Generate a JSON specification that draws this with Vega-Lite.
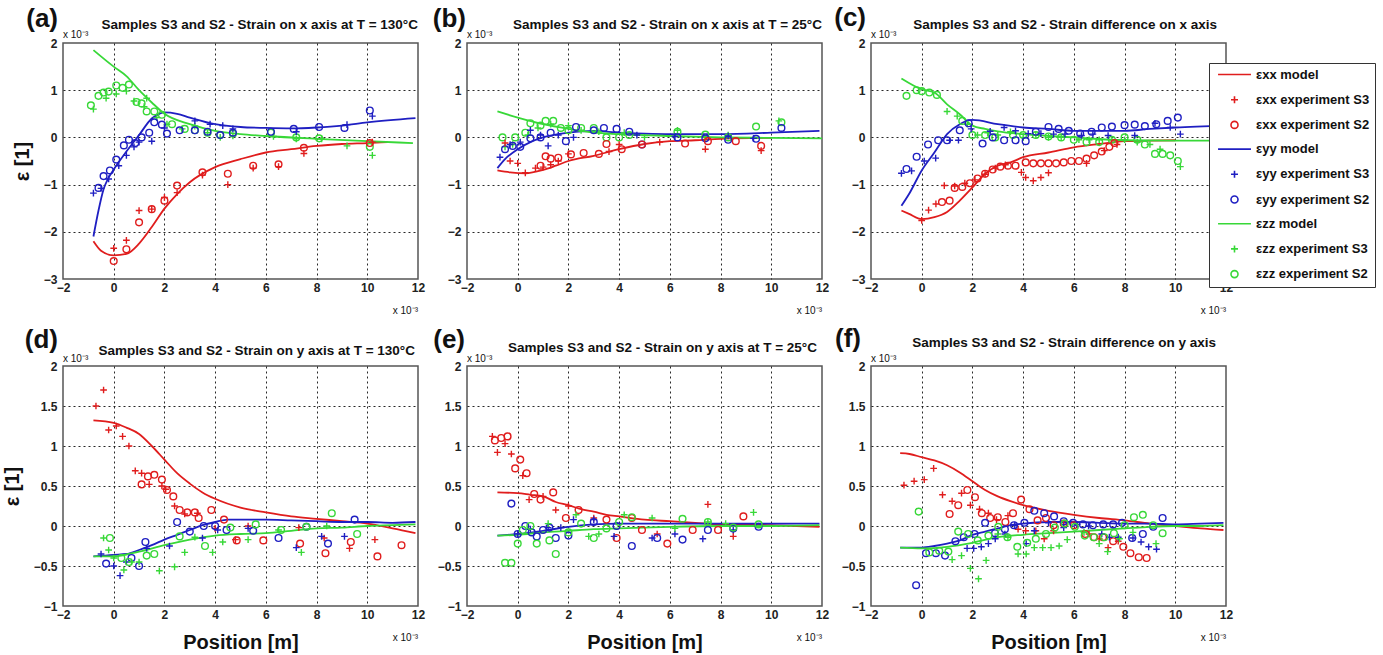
{
"$schema": "https://vega.github.io/schema/vega-lite/v6.json",
"background": "white",
"padding": {"left": 1, "top": 4, "right": 0, "bottom": 0},
"bounds": "flush",
"align": "each",
"columns": 3,
"spacing": {"row": 87, "column": 49},
"resolve": {"scale": {"x": "independent", "y": "independent", "color": "shared", "shape": "shared"}},
"data": {"name": "d"},
"datasets": {"d": [
{"p":"a","s":"εxx model","x":-0.8,"y":-2.2},{"p":"a","s":"εxx model","x":-0.5,"y":-2.4},{"p":"a","s":"εxx model","x":0,"y":-2.5},{"p":"a","s":"εxx model","x":0.5,"y":-2.47},{"p":"a","s":"εxx model","x":1,"y":-2.25},{"p":"a","s":"εxx model","x":1.5,"y":-1.9},{"p":"a","s":"εxx model","x":2,"y":-1.51},{"p":"a","s":"εxx model","x":2.5,"y":-1.2},{"p":"a","s":"εxx model","x":3,"y":-0.95},{"p":"a","s":"εxx model","x":4,"y":-0.63},{"p":"a","s":"εxx model","x":5,"y":-0.46},{"p":"a","s":"εxx model","x":6,"y":-0.32},{"p":"a","s":"εxx model","x":7,"y":-0.25},{"p":"a","s":"εxx model","x":8,"y":-0.18},{"p":"a","s":"εxx model","x":9,"y":-0.14},{"p":"a","s":"εxx model","x":10,"y":-0.12},{"p":"a","s":"εxx model","x":10.8,"y":-0.1},
{"p":"a","s":"εyy model","x":-0.8,"y":-2.1},{"p":"a","s":"εyy model","x":-0.6,"y":-1.55},{"p":"a","s":"εyy model","x":-0.4,"y":-1.1},{"p":"a","s":"εyy model","x":-0.2,"y":-0.85},{"p":"a","s":"εyy model","x":0,"y":-0.68},{"p":"a","s":"εyy model","x":0.5,"y":-0.3},{"p":"a","s":"εyy model","x":1,"y":0.05},{"p":"a","s":"εyy model","x":1.5,"y":0.4},{"p":"a","s":"εyy model","x":1.8,"y":0.5},{"p":"a","s":"εyy model","x":2,"y":0.53},{"p":"a","s":"εyy model","x":2.5,"y":0.5},{"p":"a","s":"εyy model","x":3,"y":0.42},{"p":"a","s":"εyy model","x":4,"y":0.28},{"p":"a","s":"εyy model","x":5,"y":0.22},{"p":"a","s":"εyy model","x":6,"y":0.2},{"p":"a","s":"εyy model","x":7,"y":0.19},{"p":"a","s":"εyy model","x":8,"y":0.21},{"p":"a","s":"εyy model","x":9,"y":0.25},{"p":"a","s":"εyy model","x":10,"y":0.32},{"p":"a","s":"εyy model","x":11.9,"y":0.41},
{"p":"a","s":"εzz model","x":-0.8,"y":1.85},{"p":"a","s":"εzz model","x":0,"y":1.5},{"p":"a","s":"εzz model","x":0.5,"y":1.3},{"p":"a","s":"εzz model","x":1,"y":1.0},{"p":"a","s":"εzz model","x":1.5,"y":0.74},{"p":"a","s":"εzz model","x":2,"y":0.5},{"p":"a","s":"εzz model","x":3,"y":0.28},{"p":"a","s":"εzz model","x":4,"y":0.14},{"p":"a","s":"εzz model","x":5,"y":0.07},{"p":"a","s":"εzz model","x":6,"y":0.03},{"p":"a","s":"εzz model","x":8,"y":-0.03},{"p":"a","s":"εzz model","x":10,"y":-0.08},{"p":"a","s":"εzz model","x":11.8,"y":-0.12},
{"p":"a","s":"εzz experiment S2","x":-0.9,"y":0.68},{"p":"a","s":"εzz experiment S2","x":-0.6,"y":0.88},{"p":"a","s":"εzz experiment S2","x":-0.4,"y":0.95},{"p":"a","s":"εzz experiment S2","x":-0.2,"y":0.97},{"p":"a","s":"εzz experiment S2","x":0.1,"y":1.1},{"p":"a","s":"εzz experiment S2","x":0.35,"y":1.05},{"p":"a","s":"εzz experiment S2","x":0.6,"y":1.12},{"p":"a","s":"εzz experiment S2","x":0.9,"y":0.75},{"p":"a","s":"εzz experiment S2","x":1.1,"y":0.72},{"p":"a","s":"εzz experiment S2","x":1.3,"y":0.55},{"p":"a","s":"εzz experiment S2","x":1.6,"y":0.55},{"p":"a","s":"εzz experiment S2","x":1.9,"y":0.48},{"p":"a","s":"εzz experiment S2","x":2.3,"y":0.28},{"p":"a","s":"εzz experiment S2","x":2.8,"y":0.18},{"p":"a","s":"εzz experiment S2","x":3.2,"y":0.15},{"p":"a","s":"εzz experiment S2","x":3.7,"y":0.1},{"p":"a","s":"εzz experiment S2","x":4.2,"y":0.05},{"p":"a","s":"εzz experiment S2","x":4.7,"y":0.08},{"p":"a","s":"εzz experiment S2","x":6.2,"y":0.1},{"p":"a","s":"εzz experiment S2","x":7.2,"y":0.0},{"p":"a","s":"εzz experiment S2","x":8.1,"y":-0.02},{"p":"a","s":"εzz experiment S2","x":10.1,"y":-0.2},
{"p":"a","s":"εzz experiment S3","x":-0.8,"y":0.6},{"p":"a","s":"εzz experiment S3","x":-0.3,"y":0.83},{"p":"a","s":"εzz experiment S3","x":0.1,"y":0.92},{"p":"a","s":"εzz experiment S3","x":0.5,"y":0.98},{"p":"a","s":"εzz experiment S3","x":0.8,"y":0.77},{"p":"a","s":"εzz experiment S3","x":1.2,"y":0.65},{"p":"a","s":"εzz experiment S3","x":1.3,"y":0.83},{"p":"a","s":"εzz experiment S3","x":1.7,"y":0.42},{"p":"a","s":"εzz experiment S3","x":2.1,"y":0.28},{"p":"a","s":"εzz experiment S3","x":2.7,"y":0.18},{"p":"a","s":"εzz experiment S3","x":3.2,"y":0.24},{"p":"a","s":"εzz experiment S3","x":3.7,"y":0.1},{"p":"a","s":"εzz experiment S3","x":4.2,"y":0.0},{"p":"a","s":"εzz experiment S3","x":4.7,"y":0.03},{"p":"a","s":"εzz experiment S3","x":6.3,"y":0.02},{"p":"a","s":"εzz experiment S3","x":7.2,"y":-0.03},{"p":"a","s":"εzz experiment S3","x":8.2,"y":-0.03},{"p":"a","s":"εzz experiment S3","x":9.2,"y":-0.18},{"p":"a","s":"εzz experiment S3","x":10.2,"y":-0.38},
{"p":"a","s":"εyy experiment S2","x":-0.6,"y":-1.07},{"p":"a","s":"εyy experiment S2","x":-0.4,"y":-0.82},{"p":"a","s":"εyy experiment S2","x":-0.15,"y":-0.7},{"p":"a","s":"εyy experiment S2","x":0.1,"y":-0.47},{"p":"a","s":"εyy experiment S2","x":0.4,"y":-0.17},{"p":"a","s":"εyy experiment S2","x":0.6,"y":-0.05},{"p":"a","s":"εyy experiment S2","x":0.85,"y":-0.12},{"p":"a","s":"εyy experiment S2","x":1.1,"y":0.0},{"p":"a","s":"εyy experiment S2","x":1.4,"y":0.1},{"p":"a","s":"εyy experiment S2","x":1.6,"y":0.32},{"p":"a","s":"εyy experiment S2","x":1.9,"y":0.27},{"p":"a","s":"εyy experiment S2","x":2.1,"y":0.08},{"p":"a","s":"εyy experiment S2","x":2.6,"y":0.15},{"p":"a","s":"εyy experiment S2","x":3.2,"y":0.15},{"p":"a","s":"εyy experiment S2","x":3.7,"y":0.12},{"p":"a","s":"εyy experiment S2","x":4.2,"y":0.05},{"p":"a","s":"εyy experiment S2","x":4.7,"y":0.1},{"p":"a","s":"εyy experiment S2","x":6.2,"y":0.12},{"p":"a","s":"εyy experiment S2","x":7.1,"y":0.18},{"p":"a","s":"εyy experiment S2","x":8.1,"y":0.22},{"p":"a","s":"εyy experiment S2","x":9.1,"y":0.2},{"p":"a","s":"εyy experiment S2","x":10.1,"y":0.57},
{"p":"a","s":"εyy experiment S3","x":-0.8,"y":-1.18},{"p":"a","s":"εyy experiment S3","x":-0.5,"y":-1.08},{"p":"a","s":"εyy experiment S3","x":-0.2,"y":-0.88},{"p":"a","s":"εyy experiment S3","x":0.2,"y":-0.6},{"p":"a","s":"εyy experiment S3","x":0.5,"y":-0.38},{"p":"a","s":"εyy experiment S3","x":0.8,"y":-0.2},{"p":"a","s":"εyy experiment S3","x":1.0,"y":-0.1},{"p":"a","s":"εyy experiment S3","x":1.5,"y":-0.08},{"p":"a","s":"εyy experiment S3","x":2.0,"y":0.2},{"p":"a","s":"εyy experiment S3","x":3.2,"y":0.35},{"p":"a","s":"εyy experiment S3","x":3.8,"y":0.28},{"p":"a","s":"εyy experiment S3","x":4.3,"y":0.25},{"p":"a","s":"εyy experiment S3","x":4.7,"y":0.18},{"p":"a","s":"εyy experiment S3","x":7.2,"y":0.12},{"p":"a","s":"εyy experiment S3","x":9.2,"y":0.27},{"p":"a","s":"εyy experiment S3","x":10.2,"y":0.45},
{"p":"a","s":"εxx experiment S2","x":0,"y":-2.62},{"p":"a","s":"εxx experiment S2","x":0.5,"y":-2.37},{"p":"a","s":"εxx experiment S2","x":1,"y":-1.8},{"p":"a","s":"εxx experiment S2","x":1.5,"y":-1.52},{"p":"a","s":"εxx experiment S2","x":2,"y":-1.34},{"p":"a","s":"εxx experiment S2","x":2.5,"y":-1.02},{"p":"a","s":"εxx experiment S2","x":3.5,"y":-0.74},{"p":"a","s":"εxx experiment S2","x":4.5,"y":-0.77},{"p":"a","s":"εxx experiment S2","x":5.5,"y":-0.6},{"p":"a","s":"εxx experiment S2","x":6.5,"y":-0.57},{"p":"a","s":"εxx experiment S2","x":7.5,"y":-0.22},{"p":"a","s":"εxx experiment S2","x":10.1,"y":-0.12},
{"p":"a","s":"εxx experiment S3","x":0,"y":-2.35},{"p":"a","s":"εxx experiment S3","x":0.5,"y":-2.18},{"p":"a","s":"εxx experiment S3","x":1,"y":-1.55},{"p":"a","s":"εxx experiment S3","x":1.5,"y":-1.52},{"p":"a","s":"εxx experiment S3","x":2,"y":-1.27},{"p":"a","s":"εxx experiment S3","x":2.5,"y":-1.17},{"p":"a","s":"εxx experiment S3","x":3.5,"y":-0.8},{"p":"a","s":"εxx experiment S3","x":4.5,"y":-1.0},{"p":"a","s":"εxx experiment S3","x":5.5,"y":-0.65},{"p":"a","s":"εxx experiment S3","x":6.5,"y":-0.62},{"p":"a","s":"εxx experiment S3","x":7.5,"y":-0.34},{"p":"a","s":"εxx experiment S3","x":10.2,"y":-0.1},
{"p":"b","s":"εxx model","x":-0.8,"y":-0.7},{"p":"b","s":"εxx model","x":-0.3,"y":-0.74},{"p":"b","s":"εxx model","x":0.3,"y":-0.76},{"p":"b","s":"εxx model","x":1,"y":-0.69},{"p":"b","s":"εxx model","x":1.5,"y":-0.6},{"p":"b","s":"εxx model","x":2,"y":-0.5},{"p":"b","s":"εxx model","x":3,"y":-0.39},{"p":"b","s":"εxx model","x":4,"y":-0.25},{"p":"b","s":"εxx model","x":5,"y":-0.14},{"p":"b","s":"εxx model","x":6,"y":-0.08},{"p":"b","s":"εxx model","x":7,"y":-0.06},{"p":"b","s":"εxx model","x":8,"y":-0.03},{"p":"b","s":"εxx model","x":10,"y":-0.01},
{"p":"b","s":"εyy model","x":-0.8,"y":-0.65},{"p":"b","s":"εyy model","x":-0.5,"y":-0.46},{"p":"b","s":"εyy model","x":0,"y":-0.25},{"p":"b","s":"εyy model","x":0.5,"y":-0.1},{"p":"b","s":"εyy model","x":1,"y":0},{"p":"b","s":"εyy model","x":2,"y":0.1},{"p":"b","s":"εyy model","x":3,"y":0.14},{"p":"b","s":"εyy model","x":4,"y":0.1},{"p":"b","s":"εyy model","x":5,"y":0.08},{"p":"b","s":"εyy model","x":6,"y":0.07},{"p":"b","s":"εyy model","x":8,"y":0.07},{"p":"b","s":"εyy model","x":10,"y":0.1},{"p":"b","s":"εyy model","x":11.9,"y":0.14},
{"p":"b","s":"εzz model","x":-0.8,"y":0.55},{"p":"b","s":"εzz model","x":0,"y":0.42},{"p":"b","s":"εzz model","x":1,"y":0.28},{"p":"b","s":"εzz model","x":2,"y":0.18},{"p":"b","s":"εzz model","x":3,"y":0.1},{"p":"b","s":"εzz model","x":4,"y":0.07},{"p":"b","s":"εzz model","x":6,"y":0.03},{"p":"b","s":"εzz model","x":8,"y":0},{"p":"b","s":"εzz model","x":10,"y":-0.01},{"p":"b","s":"εzz model","x":12,"y":-0.02},
{"p":"b","s":"εzz experiment S2","x":-0.6,"y":0.0},{"p":"b","s":"εzz experiment S2","x":-0.1,"y":0.0},{"p":"b","s":"εzz experiment S2","x":0.3,"y":0.1},{"p":"b","s":"εzz experiment S2","x":0.5,"y":0.3},{"p":"b","s":"εzz experiment S2","x":0.9,"y":0.25},{"p":"b","s":"εzz experiment S2","x":1.1,"y":0.35},{"p":"b","s":"εzz experiment S2","x":1.4,"y":0.35},{"p":"b","s":"εzz experiment S2","x":1.7,"y":0.2},{"p":"b","s":"εzz experiment S2","x":2.0,"y":0.15},{"p":"b","s":"εzz experiment S2","x":2.5,"y":0.2},{"p":"b","s":"εzz experiment S2","x":3.0,"y":0.2},{"p":"b","s":"εzz experiment S2","x":3.5,"y":0.0},{"p":"b","s":"εzz experiment S2","x":4.0,"y":0.0},{"p":"b","s":"εzz experiment S2","x":4.4,"y":0.05},{"p":"b","s":"εzz experiment S2","x":6.3,"y":0.12},{"p":"b","s":"εzz experiment S2","x":7.4,"y":0.06},{"p":"b","s":"εzz experiment S2","x":8.3,"y":0.0},{"p":"b","s":"εzz experiment S2","x":9.4,"y":0.23},{"p":"b","s":"εzz experiment S2","x":10.4,"y":0.32},
{"p":"b","s":"εzz experiment S3","x":-0.5,"y":-0.2},{"p":"b","s":"εzz experiment S3","x":-0.2,"y":-0.15},{"p":"b","s":"εzz experiment S3","x":0.4,"y":0.05},{"p":"b","s":"εzz experiment S3","x":0.8,"y":0.2},{"p":"b","s":"εzz experiment S3","x":1.3,"y":0.28},{"p":"b","s":"εzz experiment S3","x":2.0,"y":0.25},{"p":"b","s":"εzz experiment S3","x":2.5,"y":0.15},{"p":"b","s":"εzz experiment S3","x":3.2,"y":0.12},{"p":"b","s":"εzz experiment S3","x":4.2,"y":0.1},{"p":"b","s":"εzz experiment S3","x":5.0,"y":0.0},{"p":"b","s":"εzz experiment S3","x":6.3,"y":0.15},{"p":"b","s":"εzz experiment S3","x":7.4,"y":0.0},{"p":"b","s":"εzz experiment S3","x":8.3,"y":0.05},{"p":"b","s":"εzz experiment S3","x":10.3,"y":0.35},
{"p":"b","s":"εyy experiment S2","x":-0.5,"y":-0.25},{"p":"b","s":"εyy experiment S2","x":-0.2,"y":-0.18},{"p":"b","s":"εyy experiment S2","x":0.1,"y":-0.2},{"p":"b","s":"εyy experiment S2","x":0.5,"y":-0.02},{"p":"b","s":"εyy experiment S2","x":0.9,"y":0.0},{"p":"b","s":"εyy experiment S2","x":1.3,"y":0.1},{"p":"b","s":"εyy experiment S2","x":1.9,"y":-0.08},{"p":"b","s":"εyy experiment S2","x":2.3,"y":0.22},{"p":"b","s":"εyy experiment S2","x":3.0,"y":0.15},{"p":"b","s":"εyy experiment S2","x":3.4,"y":0.2},{"p":"b","s":"εyy experiment S2","x":3.9,"y":0.18},{"p":"b","s":"εyy experiment S2","x":4.4,"y":0.12},{"p":"b","s":"εyy experiment S2","x":4.9,"y":-0.15},{"p":"b","s":"εyy experiment S2","x":6.3,"y":0.0},{"p":"b","s":"εyy experiment S2","x":7.4,"y":-0.02},{"p":"b","s":"εyy experiment S2","x":8.3,"y":-0.05},{"p":"b","s":"εyy experiment S2","x":9.4,"y":-0.03},{"p":"b","s":"εyy experiment S2","x":10.4,"y":0.2},
{"p":"b","s":"εyy experiment S3","x":-0.7,"y":-0.42},{"p":"b","s":"εyy experiment S3","x":-0.3,"y":-0.15},{"p":"b","s":"εyy experiment S3","x":0.1,"y":-0.1},{"p":"b","s":"εyy experiment S3","x":0.5,"y":0.15},{"p":"b","s":"εyy experiment S3","x":0.9,"y":0.05},{"p":"b","s":"εyy experiment S3","x":1.2,"y":-0.18},{"p":"b","s":"εyy experiment S3","x":1.6,"y":0.05},{"p":"b","s":"εyy experiment S3","x":2.2,"y":0.0},{"p":"b","s":"εyy experiment S3","x":4.7,"y":0.05},{"p":"b","s":"εyy experiment S3","x":6.2,"y":0.02},{"p":"b","s":"εyy experiment S3","x":8.3,"y":0.03},{"p":"b","s":"εyy experiment S3","x":9.3,"y":-0.02},
{"p":"b","s":"εxx experiment S2","x":0.9,"y":-0.6},{"p":"b","s":"εxx experiment S2","x":1.1,"y":-0.4},{"p":"b","s":"εxx experiment S2","x":1.3,"y":-0.45},{"p":"b","s":"εxx experiment S2","x":1.6,"y":-0.43},{"p":"b","s":"εxx experiment S2","x":2.1,"y":-0.36},{"p":"b","s":"εxx experiment S2","x":2.6,"y":-0.33},{"p":"b","s":"εxx experiment S2","x":3.2,"y":-0.35},{"p":"b","s":"εxx experiment S2","x":3.5,"y":-0.14},{"p":"b","s":"εxx experiment S2","x":4.1,"y":-0.25},{"p":"b","s":"εxx experiment S2","x":4.9,"y":-0.15},{"p":"b","s":"εxx experiment S2","x":6.6,"y":-0.13},{"p":"b","s":"εxx experiment S2","x":7.5,"y":-0.08},{"p":"b","s":"εxx experiment S2","x":8.6,"y":-0.08},{"p":"b","s":"εxx experiment S2","x":9.6,"y":-0.18},
{"p":"b","s":"εxx experiment S3","x":-0.5,"y":-0.12},{"p":"b","s":"εxx experiment S3","x":-0.3,"y":-0.5},{"p":"b","s":"εxx experiment S3","x":0.0,"y":-0.55},{"p":"b","s":"εxx experiment S3","x":0.3,"y":-0.75},{"p":"b","s":"εxx experiment S3","x":0.7,"y":-0.65},{"p":"b","s":"εxx experiment S3","x":1.0,"y":-0.63},{"p":"b","s":"εxx experiment S3","x":1.3,"y":-0.58},{"p":"b","s":"εxx experiment S3","x":1.6,"y":-0.5},{"p":"b","s":"εxx experiment S3","x":2.0,"y":-0.35},{"p":"b","s":"εxx experiment S3","x":3.6,"y":-0.3},{"p":"b","s":"εxx experiment S3","x":4.0,"y":-0.15},{"p":"b","s":"εxx experiment S3","x":5.6,"y":-0.1},{"p":"b","s":"εxx experiment S3","x":7.4,"y":-0.25},{"p":"b","s":"εxx experiment S3","x":9.6,"y":-0.28},
{"p":"c","s":"εxx model","x":-0.8,"y":-1.55},{"p":"c","s":"εxx model","x":-0.5,"y":-1.62},{"p":"c","s":"εxx model","x":0,"y":-1.73},{"p":"c","s":"εxx model","x":0.5,"y":-1.69},{"p":"c","s":"εxx model","x":1,"y":-1.58},{"p":"c","s":"εxx model","x":1.5,"y":-1.34},{"p":"c","s":"εxx model","x":2,"y":-1.06},{"p":"c","s":"εxx model","x":2.5,"y":-0.77},{"p":"c","s":"εxx model","x":3,"y":-0.6},{"p":"c","s":"εxx model","x":3.5,"y":-0.53},{"p":"c","s":"εxx model","x":4,"y":-0.42},{"p":"c","s":"εxx model","x":5,"y":-0.32},{"p":"c","s":"εxx model","x":6,"y":-0.21},{"p":"c","s":"εxx model","x":7,"y":-0.14},{"p":"c","s":"εxx model","x":8,"y":-0.08},{"p":"c","s":"εxx model","x":9,"y":-0.07},{"p":"c","s":"εxx model","x":10,"y":-0.06},
{"p":"c","s":"εyy model","x":-0.8,"y":-1.45},{"p":"c","s":"εyy model","x":-0.5,"y":-1.2},{"p":"c","s":"εyy model","x":0,"y":-0.7},{"p":"c","s":"εyy model","x":0.5,"y":-0.32},{"p":"c","s":"εyy model","x":1,"y":0.07},{"p":"c","s":"εyy model","x":1.5,"y":0.28},{"p":"c","s":"εyy model","x":2,"y":0.37},{"p":"c","s":"εyy model","x":3,"y":0.28},{"p":"c","s":"εyy model","x":4,"y":0.21},{"p":"c","s":"εyy model","x":5,"y":0.18},{"p":"c","s":"εyy model","x":6,"y":0.14},{"p":"c","s":"εyy model","x":8,"y":0.14},{"p":"c","s":"εyy model","x":9,"y":0.18},{"p":"c","s":"εyy model","x":10,"y":0.21},{"p":"c","s":"εyy model","x":12,"y":0.25},
{"p":"c","s":"εzz model","x":-0.8,"y":1.25},{"p":"c","s":"εzz model","x":0,"y":1.02},{"p":"c","s":"εzz model","x":0.5,"y":0.95},{"p":"c","s":"εzz model","x":1,"y":0.7},{"p":"c","s":"εzz model","x":1.5,"y":0.49},{"p":"c","s":"εzz model","x":2,"y":0.25},{"p":"c","s":"εzz model","x":2.5,"y":0.18},{"p":"c","s":"εzz model","x":3,"y":0.13},{"p":"c","s":"εzz model","x":4,"y":0.07},{"p":"c","s":"εzz model","x":5,"y":0.03},{"p":"c","s":"εzz model","x":6,"y":0},{"p":"c","s":"εzz model","x":8,"y":-0.06},{"p":"c","s":"εzz model","x":10,"y":-0.07},{"p":"c","s":"εzz model","x":12,"y":-0.07},
{"p":"c","s":"εzz experiment S2","x":-0.6,"y":0.88},{"p":"c","s":"εzz experiment S2","x":-0.2,"y":1.0},{"p":"c","s":"εzz experiment S2","x":0.0,"y":0.98},{"p":"c","s":"εzz experiment S2","x":0.3,"y":0.95},{"p":"c","s":"εzz experiment S2","x":0.6,"y":0.9},{"p":"c","s":"εzz experiment S2","x":1.6,"y":0.35},{"p":"c","s":"εzz experiment S2","x":2.0,"y":0.05},{"p":"c","s":"εzz experiment S2","x":2.5,"y":0.05},{"p":"c","s":"εzz experiment S2","x":2.9,"y":0.0},{"p":"c","s":"εzz experiment S2","x":3.6,"y":0.05},{"p":"c","s":"εzz experiment S2","x":4.0,"y":0.05},{"p":"c","s":"εzz experiment S2","x":4.5,"y":0.05},{"p":"c","s":"εzz experiment S2","x":5.0,"y":0.02},{"p":"c","s":"εzz experiment S2","x":5.5,"y":0.0},{"p":"c","s":"εzz experiment S2","x":6.0,"y":-0.05},{"p":"c","s":"εzz experiment S2","x":6.5,"y":-0.1},{"p":"c","s":"εzz experiment S2","x":7.0,"y":-0.1},{"p":"c","s":"εzz experiment S2","x":7.5,"y":-0.05},{"p":"c","s":"εzz experiment S2","x":8.0,"y":0.0},{"p":"c","s":"εzz experiment S2","x":8.5,"y":-0.05},{"p":"c","s":"εzz experiment S2","x":8.8,"y":-0.15},{"p":"c","s":"εzz experiment S2","x":9.2,"y":-0.35},{"p":"c","s":"εzz experiment S2","x":9.5,"y":-0.35},{"p":"c","s":"εzz experiment S2","x":9.8,"y":-0.38},{"p":"c","s":"εzz experiment S2","x":10.1,"y":-0.5},
{"p":"c","s":"εzz experiment S3","x":1.0,"y":0.55},{"p":"c","s":"εzz experiment S3","x":1.4,"y":0.45},{"p":"c","s":"εzz experiment S3","x":1.8,"y":0.28},{"p":"c","s":"εzz experiment S3","x":2.2,"y":0.05},{"p":"c","s":"εzz experiment S3","x":2.6,"y":0.1},{"p":"c","s":"εzz experiment S3","x":3.0,"y":0.05},{"p":"c","s":"εzz experiment S3","x":3.5,"y":0.12},{"p":"c","s":"εzz experiment S3","x":4.0,"y":0.0},{"p":"c","s":"εzz experiment S3","x":4.5,"y":0.05},{"p":"c","s":"εzz experiment S3","x":5.0,"y":0.0},{"p":"c","s":"εzz experiment S3","x":5.5,"y":0.0},{"p":"c","s":"εzz experiment S3","x":6.2,"y":-0.05},{"p":"c","s":"εzz experiment S3","x":6.6,"y":-0.05},{"p":"c","s":"εzz experiment S3","x":7.0,"y":-0.05},{"p":"c","s":"εzz experiment S3","x":7.5,"y":-0.05},{"p":"c","s":"εzz experiment S3","x":8.0,"y":-0.05},{"p":"c","s":"εzz experiment S3","x":8.5,"y":-0.1},{"p":"c","s":"εzz experiment S3","x":9.0,"y":-0.15},{"p":"c","s":"εzz experiment S3","x":9.4,"y":-0.25},{"p":"c","s":"εzz experiment S3","x":10.2,"y":-0.62},
{"p":"c","s":"εyy experiment S2","x":-0.6,"y":-0.67},{"p":"c","s":"εyy experiment S2","x":-0.2,"y":-0.41},{"p":"c","s":"εyy experiment S2","x":0.25,"y":-0.15},{"p":"c","s":"εyy experiment S2","x":0.65,"y":-0.06},{"p":"c","s":"εyy experiment S2","x":1.0,"y":-0.06},{"p":"c","s":"εyy experiment S2","x":1.5,"y":0.15},{"p":"c","s":"εyy experiment S2","x":1.85,"y":0.3},{"p":"c","s":"εyy experiment S2","x":2.4,"y":-0.13},{"p":"c","s":"εyy experiment S2","x":2.8,"y":0.0},{"p":"c","s":"εyy experiment S2","x":3.25,"y":-0.06},{"p":"c","s":"εyy experiment S2","x":3.7,"y":-0.06},{"p":"c","s":"εyy experiment S2","x":4.1,"y":-0.08},{"p":"c","s":"εyy experiment S2","x":4.5,"y":0.12},{"p":"c","s":"εyy experiment S2","x":5.0,"y":0.22},{"p":"c","s":"εyy experiment S2","x":5.4,"y":0.18},{"p":"c","s":"εyy experiment S2","x":5.8,"y":0.14},{"p":"c","s":"εyy experiment S2","x":6.25,"y":0.08},{"p":"c","s":"εyy experiment S2","x":6.7,"y":0.12},{"p":"c","s":"εyy experiment S2","x":7.1,"y":0.21},{"p":"c","s":"εyy experiment S2","x":7.5,"y":0.23},{"p":"c","s":"εyy experiment S2","x":8.0,"y":0.26},{"p":"c","s":"εyy experiment S2","x":8.4,"y":0.27},{"p":"c","s":"εyy experiment S2","x":8.8,"y":0.24},{"p":"c","s":"εyy experiment S2","x":9.25,"y":0.28},{"p":"c","s":"εyy experiment S2","x":9.7,"y":0.35},{"p":"c","s":"εyy experiment S2","x":10.1,"y":0.42},
{"p":"c","s":"εyy experiment S3","x":-0.8,"y":-0.76},{"p":"c","s":"εyy experiment S3","x":-0.4,"y":-0.71},{"p":"c","s":"εyy experiment S3","x":0.1,"y":-0.5},{"p":"c","s":"εyy experiment S3","x":0.55,"y":-0.44},{"p":"c","s":"εyy experiment S3","x":1.1,"y":-0.06},{"p":"c","s":"εyy experiment S3","x":1.45,"y":-0.06},{"p":"c","s":"εyy experiment S3","x":1.95,"y":0.18},{"p":"c","s":"εyy experiment S3","x":2.7,"y":0.13},{"p":"c","s":"εyy experiment S3","x":3.25,"y":0.21},{"p":"c","s":"εyy experiment S3","x":3.7,"y":0.14},{"p":"c","s":"εyy experiment S3","x":4.2,"y":0.08},{"p":"c","s":"εyy experiment S3","x":4.7,"y":0.08},{"p":"c","s":"εyy experiment S3","x":5.2,"y":0.07},{"p":"c","s":"εyy experiment S3","x":5.65,"y":0.07},{"p":"c","s":"εyy experiment S3","x":6.3,"y":0.04},{"p":"c","s":"εyy experiment S3","x":6.75,"y":0.07},{"p":"c","s":"εyy experiment S3","x":7.35,"y":0.04},{"p":"c","s":"εyy experiment S3","x":8.4,"y":0.04},{"p":"c","s":"εyy experiment S3","x":9.2,"y":0.3},{"p":"c","s":"εyy experiment S3","x":9.8,"y":0.21},{"p":"c","s":"εyy experiment S3","x":10.2,"y":0.07},
{"p":"c","s":"εxx experiment S3","x":0,"y":-1.76},{"p":"c","s":"εxx experiment S3","x":0.27,"y":-1.54},{"p":"c","s":"εxx experiment S3","x":0.56,"y":-1.41},{"p":"c","s":"εxx experiment S3","x":0.89,"y":-1.02},{"p":"c","s":"εxx experiment S3","x":1.3,"y":-1.03},{"p":"c","s":"εxx experiment S3","x":1.7,"y":-0.97},{"p":"c","s":"εxx experiment S3","x":2.1,"y":-0.9},{"p":"c","s":"εxx experiment S3","x":2.5,"y":-0.78},{"p":"c","s":"εxx experiment S3","x":2.9,"y":-0.65},{"p":"c","s":"εxx experiment S3","x":3.3,"y":-0.58},{"p":"c","s":"εxx experiment S3","x":3.93,"y":-0.74},{"p":"c","s":"εxx experiment S3","x":4.1,"y":-0.85},{"p":"c","s":"εxx experiment S3","x":4.4,"y":-0.92},{"p":"c","s":"εxx experiment S3","x":4.7,"y":-0.85},{"p":"c","s":"εxx experiment S3","x":5.0,"y":-0.75},{"p":"c","s":"εxx experiment S3","x":6.5,"y":-0.55},{"p":"c","s":"εxx experiment S3","x":7.2,"y":-0.28},{"p":"c","s":"εxx experiment S3","x":7.7,"y":-0.15},
{"p":"c","s":"εxx experiment S2","x":0.8,"y":-1.37},{"p":"c","s":"εxx experiment S2","x":1.1,"y":-1.34},{"p":"c","s":"εxx experiment S2","x":1.3,"y":-1.07},{"p":"c","s":"εxx experiment S2","x":1.6,"y":-1.05},{"p":"c","s":"εxx experiment S2","x":1.9,"y":-0.97},{"p":"c","s":"εxx experiment S2","x":2.2,"y":-0.87},{"p":"c","s":"εxx experiment S2","x":2.5,"y":-0.77},{"p":"c","s":"εxx experiment S2","x":2.8,"y":-0.68},{"p":"c","s":"εxx experiment S2","x":3.1,"y":-0.62},{"p":"c","s":"εxx experiment S2","x":3.4,"y":-0.6},{"p":"c","s":"εxx experiment S2","x":3.7,"y":-0.6},{"p":"c","s":"εxx experiment S2","x":4.1,"y":-0.53},{"p":"c","s":"εxx experiment S2","x":4.4,"y":-0.55},{"p":"c","s":"εxx experiment S2","x":4.7,"y":-0.55},{"p":"c","s":"εxx experiment S2","x":5.0,"y":-0.55},{"p":"c","s":"εxx experiment S2","x":5.3,"y":-0.55},{"p":"c","s":"εxx experiment S2","x":5.6,"y":-0.53},{"p":"c","s":"εxx experiment S2","x":5.9,"y":-0.5},{"p":"c","s":"εxx experiment S2","x":6.2,"y":-0.5},{"p":"c","s":"εxx experiment S2","x":6.5,"y":-0.45},{"p":"c","s":"εxx experiment S2","x":6.8,"y":-0.38},{"p":"c","s":"εxx experiment S2","x":7.1,"y":-0.3},{"p":"c","s":"εxx experiment S2","x":7.4,"y":-0.2},{"p":"c","s":"εxx experiment S2","x":7.6,"y":-0.12},
{"p":"d","s":"εxx model","x":-0.8,"y":1.32},{"p":"d","s":"εxx model","x":0,"y":1.29},{"p":"d","s":"εxx model","x":0.5,"y":1.23},{"p":"d","s":"εxx model","x":1,"y":1.15},{"p":"d","s":"εxx model","x":1.5,"y":1.0},{"p":"d","s":"εxx model","x":2,"y":0.83},{"p":"d","s":"εxx model","x":2.5,"y":0.66},{"p":"d","s":"εxx model","x":3,"y":0.53},{"p":"d","s":"εxx model","x":3.5,"y":0.42},{"p":"d","s":"εxx model","x":4,"y":0.34},{"p":"d","s":"εxx model","x":5,"y":0.23},{"p":"d","s":"εxx model","x":6,"y":0.17},{"p":"d","s":"εxx model","x":7,"y":0.12},{"p":"d","s":"εxx model","x":8,"y":0.09},{"p":"d","s":"εxx model","x":9,"y":0.06},{"p":"d","s":"εxx model","x":10,"y":0.03},{"p":"d","s":"εxx model","x":11,"y":-0.03},{"p":"d","s":"εxx model","x":11.9,"y":-0.09},
{"p":"d","s":"εyy model","x":-0.8,"y":-0.38},{"p":"d","s":"εyy model","x":0,"y":-0.36},{"p":"d","s":"εyy model","x":0.5,"y":-0.35},{"p":"d","s":"εyy model","x":1,"y":-0.3},{"p":"d","s":"εyy model","x":1.5,"y":-0.24},{"p":"d","s":"εyy model","x":2,"y":-0.17},{"p":"d","s":"εyy model","x":2.5,"y":-0.11},{"p":"d","s":"εyy model","x":3,"y":-0.05},{"p":"d","s":"εyy model","x":3.5,"y":0.01},{"p":"d","s":"εyy model","x":4,"y":0.05},{"p":"d","s":"εyy model","x":4.5,"y":0.08},{"p":"d","s":"εyy model","x":5,"y":0.08},{"p":"d","s":"εyy model","x":6,"y":0.08},{"p":"d","s":"εyy model","x":7,"y":0.07},{"p":"d","s":"εyy model","x":8,"y":0.06},{"p":"d","s":"εyy model","x":9,"y":0.05},{"p":"d","s":"εyy model","x":10,"y":0.05},{"p":"d","s":"εyy model","x":11,"y":0.04},{"p":"d","s":"εyy model","x":11.9,"y":0.05},
{"p":"d","s":"εzz model","x":-0.8,"y":-0.38},{"p":"d","s":"εzz model","x":0,"y":-0.38},{"p":"d","s":"εzz model","x":1,"y":-0.32},{"p":"d","s":"εzz model","x":2,"y":-0.24},{"p":"d","s":"εzz model","x":3,"y":-0.17},{"p":"d","s":"εzz model","x":4,"y":-0.12},{"p":"d","s":"εzz model","x":5,"y":-0.1},{"p":"d","s":"εzz model","x":6,"y":-0.09},{"p":"d","s":"εzz model","x":7,"y":-0.06},{"p":"d","s":"εzz model","x":8,"y":-0.03},{"p":"d","s":"εzz model","x":9,"y":-0.02},{"p":"d","s":"εzz model","x":10,"y":0.0},{"p":"d","s":"εzz model","x":11,"y":0.01},{"p":"d","s":"εzz model","x":11.9,"y":0.02},
{"p":"d","s":"εxx experiment S3","x":-0.7,"y":1.5},{"p":"d","s":"εxx experiment S3","x":-0.4,"y":1.7},{"p":"d","s":"εxx experiment S3","x":-0.2,"y":1.2},{"p":"d","s":"εxx experiment S3","x":0.1,"y":1.25},{"p":"d","s":"εxx experiment S3","x":0.35,"y":1.12},{"p":"d","s":"εxx experiment S3","x":0.6,"y":1.0},{"p":"d","s":"εxx experiment S3","x":0.85,"y":0.69},{"p":"d","s":"εxx experiment S3","x":1.1,"y":0.66},{"p":"d","s":"εxx experiment S3","x":1.4,"y":0.52},{"p":"d","s":"εxx experiment S3","x":1.9,"y":0.5},{"p":"d","s":"εxx experiment S3","x":2.05,"y":0.46},{"p":"d","s":"εxx experiment S3","x":2.4,"y":0.25},{"p":"d","s":"εxx experiment S3","x":2.8,"y":0.15},{"p":"d","s":"εxx experiment S3","x":3.3,"y":0.16},{"p":"d","s":"εxx experiment S3","x":4.0,"y":-0.03},{"p":"d","s":"εxx experiment S3","x":4.8,"y":-0.17},{"p":"d","s":"εxx experiment S3","x":5.3,"y":0.0},{"p":"d","s":"εxx experiment S3","x":7.3,"y":-0.02},{"p":"d","s":"εxx experiment S3","x":8.3,"y":-0.15},{"p":"d","s":"εxx experiment S3","x":9.3,"y":-0.28},{"p":"d","s":"εxx experiment S3","x":10.3,"y":-0.17},
{"p":"d","s":"εxx experiment S2","x":1.1,"y":0.52},{"p":"d","s":"εxx experiment S2","x":1.35,"y":0.62},{"p":"d","s":"εxx experiment S2","x":1.6,"y":0.64},{"p":"d","s":"εxx experiment S2","x":1.9,"y":0.58},{"p":"d","s":"εxx experiment S2","x":2.1,"y":0.45},{"p":"d","s":"εxx experiment S2","x":2.35,"y":0.37},{"p":"d","s":"εxx experiment S2","x":2.6,"y":0.2},{"p":"d","s":"εxx experiment S2","x":2.9,"y":0.17},{"p":"d","s":"εxx experiment S2","x":3.2,"y":0.17},{"p":"d","s":"εxx experiment S2","x":3.35,"y":0.1},{"p":"d","s":"εxx experiment S2","x":3.85,"y":0.2},{"p":"d","s":"εxx experiment S2","x":4.35,"y":0.08},{"p":"d","s":"εxx experiment S2","x":4.85,"y":-0.18},{"p":"d","s":"εxx experiment S2","x":5.9,"y":-0.18},{"p":"d","s":"εxx experiment S2","x":7.35,"y":-0.22},{"p":"d","s":"εxx experiment S2","x":8.35,"y":-0.34},{"p":"d","s":"εxx experiment S2","x":9.35,"y":-0.2},{"p":"d","s":"εxx experiment S2","x":10.4,"y":-0.38},{"p":"d","s":"εxx experiment S2","x":11.35,"y":-0.24},
{"p":"d","s":"εyy experiment S2","x":-0.3,"y":-0.47},{"p":"d","s":"εyy experiment S2","x":0.7,"y":-0.4},{"p":"d","s":"εyy experiment S2","x":1.0,"y":-0.5},{"p":"d","s":"εyy experiment S2","x":1.25,"y":-0.2},{"p":"d","s":"εyy experiment S2","x":2.5,"y":0.05},{"p":"d","s":"εyy experiment S2","x":3.0,"y":-0.07},{"p":"d","s":"εyy experiment S2","x":3.55,"y":0.0},{"p":"d","s":"εyy experiment S2","x":4.0,"y":0.0},{"p":"d","s":"εyy experiment S2","x":4.45,"y":-0.05},{"p":"d","s":"εyy experiment S2","x":5.5,"y":-0.06},{"p":"d","s":"εyy experiment S2","x":6.5,"y":-0.15},{"p":"d","s":"εyy experiment S2","x":7.6,"y":-0.01},{"p":"d","s":"εyy experiment S2","x":8.45,"y":-0.22},{"p":"d","s":"εyy experiment S2","x":9.5,"y":0.08},
{"p":"d","s":"εyy experiment S3","x":-0.5,"y":-0.35},{"p":"d","s":"εyy experiment S3","x":0.0,"y":-0.5},{"p":"d","s":"εyy experiment S3","x":0.25,"y":-0.62},{"p":"d","s":"εyy experiment S3","x":0.5,"y":-0.45},{"p":"d","s":"εyy experiment S3","x":1.3,"y":-0.28},{"p":"d","s":"εyy experiment S3","x":2.2,"y":-0.25},{"p":"d","s":"εyy experiment S3","x":3.5,"y":-0.15},{"p":"d","s":"εyy experiment S3","x":4.1,"y":-0.05},{"p":"d","s":"εyy experiment S3","x":5.3,"y":-0.03},{"p":"d","s":"εyy experiment S3","x":7.2,"y":-0.27},{"p":"d","s":"εyy experiment S3","x":8.2,"y":-0.13},{"p":"d","s":"εyy experiment S3","x":9.1,"y":-0.13},
{"p":"d","s":"εzz experiment S2","x":-0.15,"y":-0.15},{"p":"d","s":"εzz experiment S2","x":0.3,"y":-0.4},{"p":"d","s":"εzz experiment S2","x":0.6,"y":-0.45},{"p":"d","s":"εzz experiment S2","x":1.3,"y":-0.37},{"p":"d","s":"εzz experiment S2","x":1.6,"y":-0.35},{"p":"d","s":"εzz experiment S2","x":2.6,"y":-0.13},{"p":"d","s":"εzz experiment S2","x":3.6,"y":-0.25},{"p":"d","s":"εzz experiment S2","x":4.6,"y":-0.02},{"p":"d","s":"εzz experiment S2","x":5.6,"y":0.02},{"p":"d","s":"εzz experiment S2","x":6.6,"y":-0.05},{"p":"d","s":"εzz experiment S2","x":7.6,"y":-0.01},{"p":"d","s":"εzz experiment S2","x":8.6,"y":0.16},{"p":"d","s":"εzz experiment S2","x":9.6,"y":-0.1},
{"p":"d","s":"εzz experiment S3","x":-0.4,"y":-0.15},{"p":"d","s":"εzz experiment S3","x":-0.2,"y":-0.3},{"p":"d","s":"εzz experiment S3","x":0.0,"y":-0.4},{"p":"d","s":"εzz experiment S3","x":0.4,"y":-0.55},{"p":"d","s":"εzz experiment S3","x":0.7,"y":-0.45},{"p":"d","s":"εzz experiment S3","x":1.0,"y":-0.45},{"p":"d","s":"εzz experiment S3","x":1.8,"y":-0.56},{"p":"d","s":"εzz experiment S3","x":2.4,"y":-0.51},{"p":"d","s":"εzz experiment S3","x":2.8,"y":-0.33},{"p":"d","s":"εzz experiment S3","x":3.2,"y":-0.14},{"p":"d","s":"εzz experiment S3","x":3.9,"y":-0.33},{"p":"d","s":"εzz experiment S3","x":4.3,"y":-0.2},{"p":"d","s":"εzz experiment S3","x":5.3,"y":-0.17},{"p":"d","s":"εzz experiment S3","x":6.5,"y":-0.05},{"p":"d","s":"εzz experiment S3","x":7.4,"y":-0.33},{"p":"d","s":"εzz experiment S3","x":8.4,"y":0.0},
{"p":"e","s":"εxx model","x":-0.8,"y":0.42},{"p":"e","s":"εxx model","x":0,"y":0.41},{"p":"e","s":"εxx model","x":0.5,"y":0.39},{"p":"e","s":"εxx model","x":1,"y":0.37},{"p":"e","s":"εxx model","x":1.5,"y":0.3},{"p":"e","s":"εxx model","x":2,"y":0.26},{"p":"e","s":"εxx model","x":2.5,"y":0.21},{"p":"e","s":"εxx model","x":3,"y":0.18},{"p":"e","s":"εxx model","x":3.5,"y":0.14},{"p":"e","s":"εxx model","x":4,"y":0.12},{"p":"e","s":"εxx model","x":5,"y":0.08},{"p":"e","s":"εxx model","x":6,"y":0.06},{"p":"e","s":"εxx model","x":7,"y":0.04},{"p":"e","s":"εxx model","x":8,"y":0.02},{"p":"e","s":"εxx model","x":9,"y":0.02},{"p":"e","s":"εxx model","x":10,"y":0.01},{"p":"e","s":"εxx model","x":11,"y":0},{"p":"e","s":"εxx model","x":11.9,"y":-0.01},
{"p":"e","s":"εyy model","x":-0.8,"y":-0.12},{"p":"e","s":"εyy model","x":0,"y":-0.1},{"p":"e","s":"εyy model","x":1,"y":-0.06},{"p":"e","s":"εyy model","x":2,"y":-0.01},{"p":"e","s":"εyy model","x":3,"y":0.02},{"p":"e","s":"εyy model","x":4,"y":0.03},{"p":"e","s":"εyy model","x":6,"y":0.03},{"p":"e","s":"εyy model","x":8,"y":0.03},{"p":"e","s":"εyy model","x":10,"y":0.03},{"p":"e","s":"εyy model","x":11.9,"y":0.03},
{"p":"e","s":"εzz model","x":-0.8,"y":-0.12},{"p":"e","s":"εzz model","x":0,"y":-0.11},{"p":"e","s":"εzz model","x":1,"y":-0.08},{"p":"e","s":"εzz model","x":2,"y":-0.06},{"p":"e","s":"εzz model","x":3,"y":-0.04},{"p":"e","s":"εzz model","x":4,"y":-0.03},{"p":"e","s":"εzz model","x":6,"y":-0.01},{"p":"e","s":"εzz model","x":8,"y":0.0},{"p":"e","s":"εzz model","x":10,"y":0.0},{"p":"e","s":"εzz model","x":11.9,"y":0.01},
{"p":"e","s":"εxx experiment S2","x":-0.9,"y":1.07},{"p":"e","s":"εxx experiment S2","x":-0.65,"y":1.1},{"p":"e","s":"εxx experiment S2","x":-0.4,"y":1.12},{"p":"e","s":"εxx experiment S2","x":-0.1,"y":0.72},{"p":"e","s":"εxx experiment S2","x":0.1,"y":0.83},{"p":"e","s":"εxx experiment S2","x":0.35,"y":0.66},{"p":"e","s":"εxx experiment S2","x":0.65,"y":0.4},{"p":"e","s":"εxx experiment S2","x":0.9,"y":0.33},{"p":"e","s":"εxx experiment S2","x":1.4,"y":0.42},{"p":"e","s":"εxx experiment S2","x":1.9,"y":0.1},{"p":"e","s":"εxx experiment S2","x":2.4,"y":0.2},{"p":"e","s":"εxx experiment S2","x":3.5,"y":0.08},{"p":"e","s":"εxx experiment S2","x":3.9,"y":-0.15},{"p":"e","s":"εxx experiment S2","x":4.5,"y":0.1},{"p":"e","s":"εxx experiment S2","x":4.9,"y":-0.05},{"p":"e","s":"εxx experiment S2","x":5.9,"y":-0.22},{"p":"e","s":"εxx experiment S2","x":6.9,"y":-0.05},{"p":"e","s":"εxx experiment S2","x":7.9,"y":-0.05},{"p":"e","s":"εxx experiment S2","x":8.9,"y":0.12},
{"p":"e","s":"εxx experiment S3","x":-1.0,"y":1.12},{"p":"e","s":"εxx experiment S3","x":-0.8,"y":0.92},{"p":"e","s":"εxx experiment S3","x":-0.5,"y":1.03},{"p":"e","s":"εxx experiment S3","x":-0.25,"y":0.9},{"p":"e","s":"εxx experiment S3","x":0.2,"y":0.63},{"p":"e","s":"εxx experiment S3","x":0.45,"y":0.33},{"p":"e","s":"εxx experiment S3","x":1.0,"y":0.37},{"p":"e","s":"εxx experiment S3","x":1.5,"y":0.2},{"p":"e","s":"εxx experiment S3","x":2.0,"y":0.25},{"p":"e","s":"εxx experiment S3","x":3.0,"y":0.1},{"p":"e","s":"εxx experiment S3","x":5.5,"y":-0.1},{"p":"e","s":"εxx experiment S3","x":7.5,"y":0.27},{"p":"e","s":"εxx experiment S3","x":8.5,"y":-0.13},
{"p":"e","s":"εyy experiment S2","x":-0.25,"y":0.28},{"p":"e","s":"εyy experiment S2","x":0.0,"y":-0.1},{"p":"e","s":"εyy experiment S2","x":0.3,"y":0.0},{"p":"e","s":"εyy experiment S2","x":0.55,"y":-0.08},{"p":"e","s":"εyy experiment S2","x":0.75,"y":-0.13},{"p":"e","s":"εyy experiment S2","x":1.0,"y":-0.05},{"p":"e","s":"εyy experiment S2","x":1.25,"y":-0.02},{"p":"e","s":"εyy experiment S2","x":1.5,"y":-0.15},{"p":"e","s":"εyy experiment S2","x":2.0,"y":-0.12},{"p":"e","s":"εyy experiment S2","x":3.0,"y":0.05},{"p":"e","s":"εyy experiment S2","x":3.9,"y":0.0},{"p":"e","s":"εyy experiment S2","x":4.5,"y":-0.25},{"p":"e","s":"εyy experiment S2","x":5.5,"y":-0.15},{"p":"e","s":"εyy experiment S2","x":6.5,"y":-0.17},{"p":"e","s":"εyy experiment S2","x":7.5,"y":-0.05},{"p":"e","s":"εyy experiment S2","x":8.5,"y":-0.03},{"p":"e","s":"εyy experiment S2","x":9.5,"y":-0.01},
{"p":"e","s":"εyy experiment S3","x":0.0,"y":-0.1},{"p":"e","s":"εyy experiment S3","x":0.5,"y":-0.04},{"p":"e","s":"εyy experiment S3","x":1.2,"y":-0.02},{"p":"e","s":"εyy experiment S3","x":1.7,"y":-0.02},{"p":"e","s":"εyy experiment S3","x":2.2,"y":0.08},{"p":"e","s":"εyy experiment S3","x":3.0,"y":0.08},{"p":"e","s":"εyy experiment S3","x":3.8,"y":-0.13},{"p":"e","s":"εyy experiment S3","x":5.3,"y":-0.15},{"p":"e","s":"εyy experiment S3","x":6.2,"y":-0.1},{"p":"e","s":"εyy experiment S3","x":7.3,"y":-0.16},{"p":"e","s":"εyy experiment S3","x":8.5,"y":-0.05},
{"p":"e","s":"εzz experiment S2","x":-0.5,"y":-0.46},{"p":"e","s":"εzz experiment S2","x":-0.25,"y":-0.46},{"p":"e","s":"εzz experiment S2","x":0.0,"y":-0.22},{"p":"e","s":"εzz experiment S2","x":0.2,"y":-0.05},{"p":"e","s":"εzz experiment S2","x":0.5,"y":0.0},{"p":"e","s":"εzz experiment S2","x":0.75,"y":-0.22},{"p":"e","s":"εzz experiment S2","x":1.25,"y":-0.18},{"p":"e","s":"εzz experiment S2","x":1.5,"y":-0.35},{"p":"e","s":"εzz experiment S2","x":2.0,"y":-0.08},{"p":"e","s":"εzz experiment S2","x":2.5,"y":0.03},{"p":"e","s":"εzz experiment S2","x":3.0,"y":-0.15},{"p":"e","s":"εzz experiment S2","x":3.5,"y":-0.03},{"p":"e","s":"εzz experiment S2","x":4.0,"y":0.05},{"p":"e","s":"εzz experiment S2","x":4.5,"y":0.11},{"p":"e","s":"εzz experiment S2","x":6.5,"y":0.09},{"p":"e","s":"εzz experiment S2","x":7.5,"y":0.05},{"p":"e","s":"εzz experiment S2","x":8.5,"y":-0.02},{"p":"e","s":"εzz experiment S2","x":9.5,"y":0.02},
{"p":"e","s":"εzz experiment S3","x":1.2,"y":0.03},{"p":"e","s":"εzz experiment S3","x":2.3,"y":0.14},{"p":"e","s":"εzz experiment S3","x":2.8,"y":-0.13},{"p":"e","s":"εzz experiment S3","x":3.2,"y":-0.1},{"p":"e","s":"εzz experiment S3","x":4.2,"y":0.14},{"p":"e","s":"εzz experiment S3","x":5.3,"y":0.1},{"p":"e","s":"εzz experiment S3","x":6.2,"y":-0.03},{"p":"e","s":"εzz experiment S3","x":7.5,"y":0.05},{"p":"e","s":"εzz experiment S3","x":8.2,"y":0.03},{"p":"e","s":"εzz experiment S3","x":9.3,"y":0.17},
{"p":"f","s":"εxx model","x":-0.85,"y":0.91},{"p":"f","s":"εxx model","x":-0.48,"y":0.9},{"p":"f","s":"εxx model","x":0,"y":0.86},{"p":"f","s":"εxx model","x":0.5,"y":0.82},{"p":"f","s":"εxx model","x":1,"y":0.76},{"p":"f","s":"εxx model","x":1.5,"y":0.67},{"p":"f","s":"εxx model","x":2,"y":0.56},{"p":"f","s":"εxx model","x":2.5,"y":0.45},{"p":"f","s":"εxx model","x":3,"y":0.37},{"p":"f","s":"εxx model","x":3.5,"y":0.31},{"p":"f","s":"εxx model","x":4,"y":0.26},{"p":"f","s":"εxx model","x":5,"y":0.19},{"p":"f","s":"εxx model","x":6,"y":0.14},{"p":"f","s":"εxx model","x":7,"y":0.1},{"p":"f","s":"εxx model","x":8,"y":0.07},{"p":"f","s":"εxx model","x":9,"y":0.03},{"p":"f","s":"εxx model","x":10,"y":0.0},{"p":"f","s":"εxx model","x":11,"y":-0.03},{"p":"f","s":"εxx model","x":11.9,"y":-0.05},
{"p":"f","s":"εyy model","x":-0.85,"y":-0.27},{"p":"f","s":"εyy model","x":0,"y":-0.27},{"p":"f","s":"εyy model","x":0.5,"y":-0.25},{"p":"f","s":"εyy model","x":1,"y":-0.22},{"p":"f","s":"εyy model","x":1.5,"y":-0.18},{"p":"f","s":"εyy model","x":2,"y":-0.11},{"p":"f","s":"εyy model","x":2.5,"y":-0.07},{"p":"f","s":"εyy model","x":3,"y":-0.03},{"p":"f","s":"εyy model","x":3.5,"y":0.01},{"p":"f","s":"εyy model","x":4,"y":0.03},{"p":"f","s":"εyy model","x":5,"y":0.05},{"p":"f","s":"εyy model","x":6,"y":0.05},{"p":"f","s":"εyy model","x":7,"y":0.04},{"p":"f","s":"εyy model","x":8,"y":0.03},{"p":"f","s":"εyy model","x":9,"y":0.03},{"p":"f","s":"εyy model","x":10,"y":0.02},{"p":"f","s":"εyy model","x":11,"y":0.03},{"p":"f","s":"εyy model","x":11.9,"y":0.04},
{"p":"f","s":"εzz model","x":-0.85,"y":-0.27},{"p":"f","s":"εzz model","x":0,"y":-0.28},{"p":"f","s":"εzz model","x":1,"y":-0.26},{"p":"f","s":"εzz model","x":2,"y":-0.21},{"p":"f","s":"εzz model","x":3,"y":-0.14},{"p":"f","s":"εzz model","x":4,"y":-0.11},{"p":"f","s":"εzz model","x":5,"y":-0.09},{"p":"f","s":"εzz model","x":6,"y":-0.07},{"p":"f","s":"εzz model","x":7,"y":-0.05},{"p":"f","s":"εzz model","x":8,"y":-0.03},{"p":"f","s":"εzz model","x":9,"y":-0.01},{"p":"f","s":"εzz model","x":10,"y":0.0},{"p":"f","s":"εzz model","x":11,"y":0.0},{"p":"f","s":"εzz model","x":11.9,"y":0.01},
{"p":"f","s":"εxx experiment S3","x":-0.7,"y":0.51},{"p":"f","s":"εxx experiment S3","x":-0.3,"y":0.56},{"p":"f","s":"εxx experiment S3","x":0.1,"y":0.58},{"p":"f","s":"εxx experiment S3","x":0.47,"y":0.72},{"p":"f","s":"εxx experiment S3","x":0.82,"y":0.39},{"p":"f","s":"εxx experiment S3","x":1.2,"y":0.31},{"p":"f","s":"εxx experiment S3","x":1.57,"y":0.41},{"p":"f","s":"εxx experiment S3","x":1.92,"y":0.26},{"p":"f","s":"εxx experiment S3","x":2.28,"y":0.21},{"p":"f","s":"εxx experiment S3","x":2.63,"y":0.16},{"p":"f","s":"εxx experiment S3","x":2.95,"y":0.08},{"p":"f","s":"εxx experiment S3","x":3.4,"y":0.13},{"p":"f","s":"εxx experiment S3","x":3.8,"y":-0.04},{"p":"f","s":"εxx experiment S3","x":4.1,"y":-0.06},{"p":"f","s":"εxx experiment S3","x":4.5,"y":-0.06},{"p":"f","s":"εxx experiment S3","x":4.83,"y":-0.16},{"p":"f","s":"εxx experiment S3","x":5.2,"y":-0.06},{"p":"f","s":"εxx experiment S3","x":5.6,"y":0.02},{"p":"f","s":"εxx experiment S3","x":6.6,"y":-0.1},{"p":"f","s":"εxx experiment S3","x":7.0,"y":-0.16},{"p":"f","s":"εxx experiment S3","x":7.35,"y":-0.27},{"p":"f","s":"εxx experiment S3","x":7.75,"y":-0.19},
{"p":"f","s":"εxx experiment S2","x":1.1,"y":0.15},{"p":"f","s":"εxx experiment S2","x":1.44,"y":0.26},{"p":"f","s":"εxx experiment S2","x":1.8,"y":0.45},{"p":"f","s":"εxx experiment S2","x":2.1,"y":0.36},{"p":"f","s":"εxx experiment S2","x":2.37,"y":0.16},{"p":"f","s":"εxx experiment S2","x":2.7,"y":0.1},{"p":"f","s":"εxx experiment S2","x":3.0,"y":0.11},{"p":"f","s":"εxx experiment S2","x":3.3,"y":0.05},{"p":"f","s":"εxx experiment S2","x":3.6,"y":0.16},{"p":"f","s":"εxx experiment S2","x":3.92,"y":0.33},{"p":"f","s":"εxx experiment S2","x":4.25,"y":0.21},{"p":"f","s":"εxx experiment S2","x":4.57,"y":0.07},{"p":"f","s":"εxx experiment S2","x":4.9,"y":0.1},{"p":"f","s":"εxx experiment S2","x":5.2,"y":0.01},{"p":"f","s":"εxx experiment S2","x":5.6,"y":0.03},{"p":"f","s":"εxx experiment S2","x":6.0,"y":0.01},{"p":"f","s":"εxx experiment S2","x":6.45,"y":-0.1},{"p":"f","s":"εxx experiment S2","x":6.8,"y":-0.14},{"p":"f","s":"εxx experiment S2","x":7.15,"y":-0.14},{"p":"f","s":"εxx experiment S2","x":7.55,"y":-0.19},{"p":"f","s":"εxx experiment S2","x":7.95,"y":-0.26},{"p":"f","s":"εxx experiment S2","x":8.23,"y":-0.34},{"p":"f","s":"εxx experiment S2","x":8.56,"y":-0.39},{"p":"f","s":"εxx experiment S2","x":8.87,"y":-0.4},
{"p":"f","s":"εyy experiment S2","x":-0.22,"y":-0.74},{"p":"f","s":"εyy experiment S2","x":0.17,"y":-0.34},{"p":"f","s":"εyy experiment S2","x":0.56,"y":-0.34},{"p":"f","s":"εyy experiment S2","x":0.92,"y":-0.37},{"p":"f","s":"εyy experiment S2","x":1.33,"y":-0.19},{"p":"f","s":"εyy experiment S2","x":1.66,"y":-0.14},{"p":"f","s":"εyy experiment S2","x":2.08,"y":-0.1},{"p":"f","s":"εyy experiment S2","x":2.5,"y":0.04},{"p":"f","s":"εyy experiment S2","x":2.89,"y":-0.09},{"p":"f","s":"εyy experiment S2","x":3.28,"y":-0.04},{"p":"f","s":"εyy experiment S2","x":3.64,"y":0.01},{"p":"f","s":"εyy experiment S2","x":4.05,"y":0.04},{"p":"f","s":"εyy experiment S2","x":4.44,"y":0.19},{"p":"f","s":"εyy experiment S2","x":4.83,"y":0.16},{"p":"f","s":"εyy experiment S2","x":5.22,"y":0.12},{"p":"f","s":"εyy experiment S2","x":5.6,"y":0.06},{"p":"f","s":"εyy experiment S2","x":5.97,"y":0.04},{"p":"f","s":"εyy experiment S2","x":6.36,"y":0.02},{"p":"f","s":"εyy experiment S2","x":6.75,"y":0.01},{"p":"f","s":"εyy experiment S2","x":7.16,"y":0.02},{"p":"f","s":"εyy experiment S2","x":7.55,"y":0.02},{"p":"f","s":"εyy experiment S2","x":7.9,"y":0.04},{"p":"f","s":"εyy experiment S2","x":8.3,"y":-0.15},{"p":"f","s":"εyy experiment S2","x":8.72,"y":-0.1},{"p":"f","s":"εyy experiment S2","x":9.13,"y":-0.01},{"p":"f","s":"εyy experiment S2","x":9.5,"y":0.1},
{"p":"f","s":"εyy experiment S3","x":1.79,"y":-0.28},{"p":"f","s":"εyy experiment S3","x":2.05,"y":-0.28},{"p":"f","s":"εyy experiment S3","x":2.35,"y":-0.26},{"p":"f","s":"εyy experiment S3","x":2.63,"y":-0.22},{"p":"f","s":"εyy experiment S3","x":2.9,"y":-0.16},{"p":"f","s":"εyy experiment S3","x":3.28,"y":-0.1},{"p":"f","s":"εyy experiment S3","x":3.67,"y":0.01},{"p":"f","s":"εyy experiment S3","x":4.12,"y":-0.22},{"p":"f","s":"εyy experiment S3","x":4.44,"y":-0.06},{"p":"f","s":"εyy experiment S3","x":5.0,"y":0.04},{"p":"f","s":"εyy experiment S3","x":5.6,"y":-0.02},{"p":"f","s":"εyy experiment S3","x":6.13,"y":0.02},{"p":"f","s":"εyy experiment S3","x":6.58,"y":0.0},{"p":"f","s":"εyy experiment S3","x":7.1,"y":-0.1},{"p":"f","s":"εyy experiment S3","x":7.4,"y":-0.14},{"p":"f","s":"εyy experiment S3","x":7.75,"y":-0.14},{"p":"f","s":"εyy experiment S3","x":8.33,"y":-0.15},{"p":"f","s":"εyy experiment S3","x":8.65,"y":-0.2},{"p":"f","s":"εyy experiment S3","x":8.95,"y":-0.26},{"p":"f","s":"εyy experiment S3","x":9.26,"y":-0.29},
{"p":"f","s":"εzz experiment S2","x":-0.12,"y":0.18},{"p":"f","s":"εzz experiment S2","x":0.3,"y":-0.33},{"p":"f","s":"εzz experiment S2","x":0.69,"y":-0.31},{"p":"f","s":"εzz experiment S2","x":1.05,"y":-0.32},{"p":"f","s":"εzz experiment S2","x":1.44,"y":-0.07},{"p":"f","s":"εzz experiment S2","x":1.83,"y":-0.1},{"p":"f","s":"εzz experiment S2","x":2.21,"y":-0.18},{"p":"f","s":"εzz experiment S2","x":2.63,"y":-0.12},{"p":"f","s":"εzz experiment S2","x":3.02,"y":-0.01},{"p":"f","s":"εzz experiment S2","x":3.38,"y":-0.14},{"p":"f","s":"εzz experiment S2","x":3.77,"y":-0.26},{"p":"f","s":"εzz experiment S2","x":4.16,"y":-0.21},{"p":"f","s":"εzz experiment S2","x":4.5,"y":-0.16},{"p":"f","s":"εzz experiment S2","x":4.9,"y":-0.1},{"p":"f","s":"εzz experiment S2","x":5.25,"y":-0.02},{"p":"f","s":"εzz experiment S2","x":5.64,"y":0.03},{"p":"f","s":"εzz experiment S2","x":6.04,"y":-0.01},{"p":"f","s":"εzz experiment S2","x":6.43,"y":-0.12},{"p":"f","s":"εzz experiment S2","x":6.78,"y":-0.14},{"p":"f","s":"εzz experiment S2","x":7.2,"y":-0.14},{"p":"f","s":"εzz experiment S2","x":7.58,"y":-0.09},{"p":"f","s":"εzz experiment S2","x":8.0,"y":0.01},{"p":"f","s":"εzz experiment S2","x":8.37,"y":0.11},{"p":"f","s":"εzz experiment S2","x":8.72,"y":0.14},{"p":"f","s":"εzz experiment S2","x":9.13,"y":0.01},{"p":"f","s":"εzz experiment S2","x":9.5,"y":-0.09},
{"p":"f","s":"εzz experiment S3","x":1.2,"y":-0.42},{"p":"f","s":"εzz experiment S3","x":1.57,"y":-0.37},{"p":"f","s":"εzz experiment S3","x":1.92,"y":-0.53},{"p":"f","s":"εzz experiment S3","x":2.24,"y":-0.66},{"p":"f","s":"εzz experiment S3","x":2.54,"y":-0.43},{"p":"f","s":"εzz experiment S3","x":3.0,"y":-0.1},{"p":"f","s":"εzz experiment S3","x":3.4,"y":-0.14},{"p":"f","s":"εzz experiment S3","x":3.8,"y":-0.35},{"p":"f","s":"εzz experiment S3","x":4.12,"y":-0.35},{"p":"f","s":"εzz experiment S3","x":4.44,"y":-0.27},{"p":"f","s":"εzz experiment S3","x":4.77,"y":-0.27},{"p":"f","s":"εzz experiment S3","x":5.1,"y":-0.27},{"p":"f","s":"εzz experiment S3","x":5.42,"y":-0.25},{"p":"f","s":"εzz experiment S3","x":5.74,"y":-0.17},{"p":"f","s":"εzz experiment S3","x":6.4,"y":-0.08},{"p":"f","s":"εzz experiment S3","x":7.0,"y":-0.22},{"p":"f","s":"εzz experiment S3","x":7.33,"y":-0.32},{"p":"f","s":"εzz experiment S3","x":7.8,"y":-0.16},{"p":"f","s":"εzz experiment S3","x":8.33,"y":-0.08},{"p":"f","s":"εzz experiment S3","x":9.24,"y":-0.22}
]},
"concat": [
 {"width": 355, "height": 236,
  "encoding": {
   "x": {"type": "quantitative", "scale": {"domain": [-2, 12], "nice": false, "zero": false}, "axis": {"values": [-2,0,2,4,6,8,10,12], "title": null, "gridOpacity": {"condition": {"test": "datum.value <= -2 || datum.value >= 12", "value": 0}, "value": 0.9}}},
   "y": {"type": "quantitative", "scale": {"domain": [-3, 2], "nice": false, "zero": false}, "axis": {"values": [-3,-2,-1,0,1,2], "title": "ε [1]", "titleFontSize": 20, "titlePadding": 11, "gridOpacity": {"condition": {"test": "datum.value <= -3 || datum.value >= 2", "value": 0}, "value": 0.9}}}
  },
  "layer": [
   {"transform": [{"filter": "datum.p == 'a' && indexof(datum.s, 'model') >= 0"}], "mark": {"type": "line", "strokeWidth": 1.8, "interpolate": "monotone"},
    "encoding": {"x": {"field": "x"}, "y": {"field": "y"},
     "color": {"field": "s", "type": "nominal", "title": null, "scale": {"domain": ["εxx model","εxx experiment S3","εxx experiment S2","εyy model","εyy experiment S3","εyy experiment S2","εzz model","εzz experiment S3","εzz experiment S2"], "range": ["#e01d1d","#e01d1d","#e01d1d","#1f1fc2","#1f1fc2","#1f1fc2","#38d838","#38d838","#38d838"]}}}},
   {"transform": [{"filter": "datum.p == 'a' && indexof(datum.s, 'model') < 0"}], "mark": {"type": "point", "filled": false, "size": 45, "strokeWidth": 1.4, "opacity": 1},
    "encoding": {"x": {"field": "x"}, "y": {"field": "y"},
     "color": {"field": "s", "type": "nominal", "title": null}, "shape": {"field": "s", "type": "nominal", "title": null, "scale": {"domain": ["εxx model","εxx experiment S3","εxx experiment S2","εyy model","εyy experiment S3","εyy experiment S2","εzz model","εzz experiment S3","εzz experiment S2"], "range": ["M-4.7,0H4.7","M-1,0H1M0,-1V1","circle","M-4.7,0H4.7","M-1,0H1M0,-1V1","circle","M-4.7,0H4.7","M-1,0H1M0,-1V1","circle"]}}}},
   {"data": {"values": [{"t": "(a)"}]}, "mark": {"type": "text", "fontSize": 26, "fontWeight": "bold", "align": "right", "baseline": "alphabetic", "dx": -5, "dy": -16, "color": "#111"}, "encoding": {"x": {"datum": -2}, "y": {"datum": 2}, "text": {"field": "t"}}},
   {"data": {"values": [{"t": "Samples S3 and S2 - Strain on x axis at T = 130°C"}]}, "mark": {"type": "text", "fontSize": 13.5, "fontWeight": "bold", "align": "right", "baseline": "alphabetic", "dx": 0, "dy": -14, "color": "#111"}, "encoding": {"x": {"datum": 12}, "y": {"datum": 2}, "text": {"field": "t"}}},
   {"data": {"values": [{"t": "x 10⁻³"}]}, "mark": {"type": "text", "fontSize": 10, "align": "left", "baseline": "alphabetic", "dy": -5, "color": "#111"}, "encoding": {"x": {"datum": -2}, "y": {"datum": 2}, "text": {"field": "t"}}},
   {"data": {"values": [{"t": "x 10⁻³"}]}, "mark": {"type": "text", "fontSize": 10, "align": "right", "baseline": "alphabetic", "dy": 35, "color": "#111"}, "encoding": {"x": {"datum": 12}, "y": {"datum": -3}, "text": {"field": "t"}}}
  ]},
 {"width": 355, "height": 236,
  "encoding": {
   "x": {"type": "quantitative", "scale": {"domain": [-2, 12], "nice": false, "zero": false}, "axis": {"values": [-2,0,2,4,6,8,10,12], "title": null, "gridOpacity": {"condition": {"test": "datum.value <= -2 || datum.value >= 12", "value": 0}, "value": 0.9}}},
   "y": {"type": "quantitative", "scale": {"domain": [-3, 2], "nice": false, "zero": false}, "axis": {"values": [-3,-2,-1,0,1,2], "title": null, "gridOpacity": {"condition": {"test": "datum.value <= -3 || datum.value >= 2", "value": 0}, "value": 0.9}}}
  },
  "layer": [
   {"transform": [{"filter": "datum.p == 'b' && indexof(datum.s, 'model') >= 0"}], "mark": {"type": "line", "strokeWidth": 1.8, "interpolate": "monotone"}, "encoding": {"x": {"field": "x"}, "y": {"field": "y"}, "color": {"field": "s", "type": "nominal", "title": null}}},
   {"transform": [{"filter": "datum.p == 'b' && indexof(datum.s, 'model') < 0"}], "mark": {"type": "point", "filled": false, "size": 45, "strokeWidth": 1.4, "opacity": 1}, "encoding": {"x": {"field": "x"}, "y": {"field": "y"}, "color": {"field": "s", "type": "nominal", "title": null}, "shape": {"field": "s", "type": "nominal", "title": null}}},
   {"data": {"values": [{"t": "(b)"}]}, "mark": {"type": "text", "fontSize": 26, "fontWeight": "bold", "align": "right", "baseline": "alphabetic", "dx": -1, "dy": -16, "color": "#111"}, "encoding": {"x": {"datum": -2}, "y": {"datum": 2}, "text": {"field": "t"}}},
   {"data": {"values": [{"t": "Samples S3 and S2 - Strain on x axis at T = 25°C"}]}, "mark": {"type": "text", "fontSize": 13.5, "fontWeight": "bold", "align": "right", "baseline": "alphabetic", "dx": 0, "dy": -14, "color": "#111"}, "encoding": {"x": {"datum": 12}, "y": {"datum": 2}, "text": {"field": "t"}}},
   {"data": {"values": [{"t": "x 10⁻³"}]}, "mark": {"type": "text", "fontSize": 10, "align": "left", "baseline": "alphabetic", "dy": -5, "color": "#111"}, "encoding": {"x": {"datum": -2}, "y": {"datum": 2}, "text": {"field": "t"}}},
   {"data": {"values": [{"t": "x 10⁻³"}]}, "mark": {"type": "text", "fontSize": 10, "align": "right", "baseline": "alphabetic", "dy": 35, "color": "#111"}, "encoding": {"x": {"datum": 12}, "y": {"datum": -3}, "text": {"field": "t"}}}
  ]},
 {"width": 355, "height": 236,
  "encoding": {
   "x": {"type": "quantitative", "scale": {"domain": [-2, 12], "nice": false, "zero": false}, "axis": {"values": [-2,0,2,4,6,8,10,12], "title": null, "gridOpacity": {"condition": {"test": "datum.value <= -2 || datum.value >= 12", "value": 0}, "value": 0.9}}},
   "y": {"type": "quantitative", "scale": {"domain": [-3, 2], "nice": false, "zero": false}, "axis": {"values": [-3,-2,-1,0,1,2], "title": null, "gridOpacity": {"condition": {"test": "datum.value <= -3 || datum.value >= 2", "value": 0}, "value": 0.9}}}
  },
  "layer": [
   {"transform": [{"filter": "datum.p == 'c' && indexof(datum.s, 'model') >= 0"}], "mark": {"type": "line", "strokeWidth": 1.8, "interpolate": "monotone"}, "encoding": {"x": {"field": "x"}, "y": {"field": "y"}, "color": {"field": "s", "type": "nominal", "title": null}}},
   {"transform": [{"filter": "datum.p == 'c' && indexof(datum.s, 'model') < 0"}], "mark": {"type": "point", "filled": false, "size": 45, "strokeWidth": 1.4, "opacity": 1},
    "encoding": {"x": {"field": "x"}, "y": {"field": "y"},
     "color": {"field": "s", "type": "nominal", "title": null, "legend": {"orient": "none", "legendX": 1146, "legendY": 20, "title": null, "padding": 5, "strokeColor": "#333", "fillColor": "#ffffff", "labelFont": "Liberation Sans", "labelFontSize": 13, "labelFontWeight": "bold", "labelColor": "#111", "symbolSize": 49, "symbolStrokeWidth": 1.6, "symbolOffset": 14, "labelOffset": 15, "rowPadding": 10.2}}, "shape": {"field": "s", "type": "nominal", "title": null}}},
   {"data": {"values": [{"t": "(c)"}]}, "mark": {"type": "text", "fontSize": 26, "fontWeight": "bold", "align": "right", "baseline": "alphabetic", "dx": -5, "dy": -17, "color": "#111"}, "encoding": {"x": {"datum": -2}, "y": {"datum": 2}, "text": {"field": "t"}}},
   {"data": {"values": [{"t": "Samples S3 and S2 - Strain difference on x axis"}]}, "mark": {"type": "text", "fontSize": 13.5, "fontWeight": "bold", "align": "right", "baseline": "alphabetic", "dx": -9, "dy": -14, "color": "#111"}, "encoding": {"x": {"datum": 12}, "y": {"datum": 2}, "text": {"field": "t"}}},
   {"data": {"values": [{"t": "x 10⁻³"}]}, "mark": {"type": "text", "fontSize": 10, "align": "left", "baseline": "alphabetic", "dy": -5, "color": "#111"}, "encoding": {"x": {"datum": -2}, "y": {"datum": 2}, "text": {"field": "t"}}},
   {"data": {"values": [{"t": "x 10⁻³"}]}, "mark": {"type": "text", "fontSize": 10, "align": "right", "baseline": "alphabetic", "dy": 35, "color": "#111"}, "encoding": {"x": {"datum": 12}, "y": {"datum": -3}, "text": {"field": "t"}}}
  ]},
 {"width": 355, "height": 240,
  "encoding": {
   "x": {"type": "quantitative", "scale": {"domain": [-2, 12], "nice": false, "zero": false}, "axis": {"values": [-2,0,2,4,6,8,10,12], "title": "Position [m]", "titleFontSize": 20, "titlePadding": 12, "gridOpacity": {"condition": {"test": "datum.value <= -2 || datum.value >= 12", "value": 0}, "value": 0.9}}},
   "y": {"type": "quantitative", "scale": {"domain": [-1, 2], "nice": false, "zero": false}, "axis": {"values": [-1,-0.5,0,0.5,1,1.5,2], "format": "~g", "labelOverlap": false, "title": "ε [1]", "titleFontSize": 20, "titlePadding": 11, "gridOpacity": {"condition": {"test": "datum.value <= -1 || datum.value >= 2", "value": 0}, "value": 0.9}}}
  },
  "layer": [
   {"transform": [{"filter": "datum.p == 'd' && indexof(datum.s, 'model') >= 0"}], "mark": {"type": "line", "strokeWidth": 1.8, "interpolate": "monotone"}, "encoding": {"x": {"field": "x"}, "y": {"field": "y"}, "color": {"field": "s", "type": "nominal", "title": null}}},
   {"transform": [{"filter": "datum.p == 'd' && indexof(datum.s, 'model') < 0"}], "mark": {"type": "point", "filled": false, "size": 45, "strokeWidth": 1.4, "opacity": 1}, "encoding": {"x": {"field": "x"}, "y": {"field": "y"}, "color": {"field": "s", "type": "nominal", "title": null}, "shape": {"field": "s", "type": "nominal", "title": null}}},
   {"data": {"values": [{"t": "(d)"}]}, "mark": {"type": "text", "fontSize": 26, "fontWeight": "bold", "align": "right", "baseline": "alphabetic", "dx": -5, "dy": -18, "color": "#111"}, "encoding": {"x": {"datum": -2}, "y": {"datum": 2}, "text": {"field": "t"}}},
   {"data": {"values": [{"t": "Samples S3 and S2 - Strain on y axis at T = 130°C"}]}, "mark": {"type": "text", "fontSize": 13.5, "fontWeight": "bold", "align": "right", "baseline": "alphabetic", "dx": -3, "dy": -11, "color": "#111"}, "encoding": {"x": {"datum": 12}, "y": {"datum": 2}, "text": {"field": "t"}}},
   {"data": {"values": [{"t": "x 10⁻³"}]}, "mark": {"type": "text", "fontSize": 10, "align": "left", "baseline": "alphabetic", "dy": -4, "color": "#111"}, "encoding": {"x": {"datum": -2}, "y": {"datum": 2}, "text": {"field": "t"}}},
   {"data": {"values": [{"t": "x 10⁻³"}]}, "mark": {"type": "text", "fontSize": 10, "align": "right", "baseline": "alphabetic", "dy": 35, "color": "#111"}, "encoding": {"x": {"datum": 12}, "y": {"datum": -1}, "text": {"field": "t"}}}
  ]},
 {"width": 355, "height": 240,
  "encoding": {
   "x": {"type": "quantitative", "scale": {"domain": [-2, 12], "nice": false, "zero": false}, "axis": {"values": [-2,0,2,4,6,8,10,12], "title": "Position [m]", "titleFontSize": 20, "titlePadding": 12, "gridOpacity": {"condition": {"test": "datum.value <= -2 || datum.value >= 12", "value": 0}, "value": 0.9}}},
   "y": {"type": "quantitative", "scale": {"domain": [-1, 2], "nice": false, "zero": false}, "axis": {"values": [-1,-0.5,0,0.5,1,1.5,2], "format": "~g", "labelOverlap": false, "title": null, "gridOpacity": {"condition": {"test": "datum.value <= -1 || datum.value >= 2", "value": 0}, "value": 0.9}}}
  },
  "layer": [
   {"transform": [{"filter": "datum.p == 'e' && indexof(datum.s, 'model') >= 0"}], "mark": {"type": "line", "strokeWidth": 1.8, "interpolate": "monotone"}, "encoding": {"x": {"field": "x"}, "y": {"field": "y"}, "color": {"field": "s", "type": "nominal", "title": null}}},
   {"transform": [{"filter": "datum.p == 'e' && indexof(datum.s, 'model') < 0"}], "mark": {"type": "point", "filled": false, "size": 45, "strokeWidth": 1.4, "opacity": 1}, "encoding": {"x": {"field": "x"}, "y": {"field": "y"}, "color": {"field": "s", "type": "nominal", "title": null}, "shape": {"field": "s", "type": "nominal", "title": null}}},
   {"data": {"values": [{"t": "(e)"}]}, "mark": {"type": "text", "fontSize": 26, "fontWeight": "bold", "align": "right", "baseline": "alphabetic", "dx": -2, "dy": -18, "color": "#111"}, "encoding": {"x": {"datum": -2}, "y": {"datum": 2}, "text": {"field": "t"}}},
   {"data": {"values": [{"t": "Samples S3 and S2 - Strain on y axis at T = 25°C"}]}, "mark": {"type": "text", "fontSize": 13.5, "fontWeight": "bold", "align": "right", "baseline": "alphabetic", "dx": -5, "dy": -14, "color": "#111"}, "encoding": {"x": {"datum": 12}, "y": {"datum": 2}, "text": {"field": "t"}}},
   {"data": {"values": [{"t": "x 10⁻³"}]}, "mark": {"type": "text", "fontSize": 10, "align": "left", "baseline": "alphabetic", "dy": -4, "color": "#111"}, "encoding": {"x": {"datum": -2}, "y": {"datum": 2}, "text": {"field": "t"}}},
   {"data": {"values": [{"t": "x 10⁻³"}]}, "mark": {"type": "text", "fontSize": 10, "align": "right", "baseline": "alphabetic", "dy": 35, "color": "#111"}, "encoding": {"x": {"datum": 12}, "y": {"datum": -1}, "text": {"field": "t"}}}
  ]},
 {"width": 355, "height": 240,
  "encoding": {
   "x": {"type": "quantitative", "scale": {"domain": [-2, 12], "nice": false, "zero": false}, "axis": {"values": [-2,0,2,4,6,8,10,12], "title": "Position [m]", "titleFontSize": 20, "titlePadding": 12, "gridOpacity": {"condition": {"test": "datum.value <= -2 || datum.value >= 12", "value": 0}, "value": 0.9}}},
   "y": {"type": "quantitative", "scale": {"domain": [-1, 2], "nice": false, "zero": false}, "axis": {"values": [-1,-0.5,0,0.5,1,1.5,2], "format": "~g", "labelOverlap": false, "title": null, "gridOpacity": {"condition": {"test": "datum.value <= -1 || datum.value >= 2", "value": 0}, "value": 0.9}}}
  },
  "layer": [
   {"transform": [{"filter": "datum.p == 'f' && indexof(datum.s, 'model') >= 0"}], "mark": {"type": "line", "strokeWidth": 1.8, "interpolate": "monotone"}, "encoding": {"x": {"field": "x"}, "y": {"field": "y"}, "color": {"field": "s", "type": "nominal", "title": null}}},
   {"transform": [{"filter": "datum.p == 'f' && indexof(datum.s, 'model') < 0"}], "mark": {"type": "point", "filled": false, "size": 45, "strokeWidth": 1.4, "opacity": 1}, "encoding": {"x": {"field": "x"}, "y": {"field": "y"}, "color": {"field": "s", "type": "nominal", "title": null}, "shape": {"field": "s", "type": "nominal", "title": null}}},
   {"data": {"values": [{"t": "(f)"}]}, "mark": {"type": "text", "fontSize": 26, "fontWeight": "bold", "align": "right", "baseline": "alphabetic", "dx": -10, "dy": -19, "color": "#111"}, "encoding": {"x": {"datum": -2}, "y": {"datum": 2}, "text": {"field": "t"}}},
   {"data": {"values": [{"t": "Samples S3 and S2 - Strain difference on y axis"}]}, "mark": {"type": "text", "fontSize": 13.5, "fontWeight": "bold", "align": "right", "baseline": "alphabetic", "dx": -10, "dy": -19, "color": "#111"}, "encoding": {"x": {"datum": 12}, "y": {"datum": 2}, "text": {"field": "t"}}},
   {"data": {"values": [{"t": "x 10⁻³"}]}, "mark": {"type": "text", "fontSize": 10, "align": "left", "baseline": "alphabetic", "dy": -4, "color": "#111"}, "encoding": {"x": {"datum": -2}, "y": {"datum": 2}, "text": {"field": "t"}}},
   {"data": {"values": [{"t": "x 10⁻³"}]}, "mark": {"type": "text", "fontSize": 10, "align": "right", "baseline": "alphabetic", "dy": 35, "color": "#111"}, "encoding": {"x": {"datum": 12}, "y": {"datum": -1}, "text": {"field": "t"}}}
  ]}
],
"config": {
 "font": "Liberation Sans",
 "view": {"stroke": "#555555", "strokeWidth": 1.5},
 "axis": {"ticks": false, "tickSize": 0, "domain": false, "grid": true, "gridColor": "#111111", "gridDash": [2, 3], "gridWidth": 1, "labelFont": "Liberation Sans", "labelFontSize": 12, "labelFontWeight": "bold", "labelColor": "#222222", "titleFont": "Liberation Sans", "titleFontWeight": "bold", "titleColor": "#111111"},
 "axisX": {"labelPadding": 3, "labelFlush": false},
 "axisY": {"labelPadding": 6}
}
}
